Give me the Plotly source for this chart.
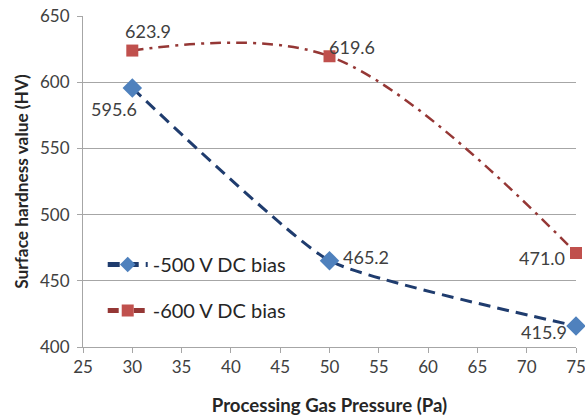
import plotly.graph_objects as go

pressure = [30, 50, 75]
hv_500 = [595.6, 465.2, 415.9]
hv_600 = [623.9, 619.6, 471.0]
series_names = ["-500 V DC bias", "-600 V DC bias"]
x_ticks = [25, 30, 35, 40, 45, 50, 55, 60, 65, 70, 75]
y_ticks = [400, 450, 500, 550, 600, 650]

FONT = "Lato"
fig = go.Figure()
fig.add_trace(go.Scatter(
    x=pressure, y=hv_500, name=series_names[0], mode="lines+markers",
    line=dict(color="#1F3C6E", width=3, dash="12px,7px", shape="spline", smoothing=0.45),
    marker=dict(symbol="diamond", size=15, color="#4F81BD"),
    legendgroup="a", cliponaxis=False))
fig.add_trace(go.Scatter(
    x=pressure, y=hv_600, name=series_names[1], mode="lines+markers",
    line=dict(color="#953735", width=2.5, dash="11px,6px,3px,6px", shape="spline", smoothing=1),
    marker=dict(symbol="square", size=12, color="#C0504D"),
    legendgroup="b", cliponaxis=False))

# data labels
offsets_500 = [(-18, -21), (36, 4), (-32, -6)]
offsets_600 = [(16, 20), (22, 9), (-34, -5)]
for xs, ys, offs in [(pressure, hv_500, offsets_500), (pressure, hv_600, offsets_600)]:
    for xv, yv, (dx, dy) in zip(xs, ys, offs):
        fig.add_annotation(x=xv, y=yv, text=f"{yv:.1f}", showarrow=False,
                           xshift=dx, yshift=dy,
                           font=dict(family=FONT, size=18, color="#404040"))

fig.update_layout(
    width=585, height=416,
    margin=dict(l=83, r=9, t=16, b=69),
    paper_bgcolor="white", plot_bgcolor="white",
    font=dict(family=FONT, size=17, color="#404040"),
    showlegend=True,
    legend=dict(x=0.04, y=0.308, xanchor="left", yanchor="top",
                font=dict(family=FONT, size=20, color="#262626"),
                itemwidth=40, itemsizing="constant",
                tracegroupgap=17, bgcolor="rgba(0,0,0,0)"),
    xaxis=dict(range=[25, 75], tickvals=x_ticks, showgrid=False,
               showline=True, linecolor="#A6A6A6", linewidth=1,
               ticks="outside", ticklen=5, tickcolor="#A6A6A6",
               ticklabeloverflow="allow", automargin=False,
               tickfont=dict(family=FONT, size=17, color="#404040"),
               title=dict(text="<b>Processing Gas Pressure (Pa)</b>",
                          font=dict(family=FONT, size=18.6, color="#262626"), standoff=22),
               zeroline=False),
    yaxis=dict(range=[400, 650], tickvals=y_ticks, showgrid=True,
               gridcolor="#A6A6A6", gridwidth=1,
               showline=True, linecolor="#A6A6A6", linewidth=1,
               ticks="outside", ticklen=5, tickcolor="#A6A6A6",
               ticklabeloverflow="allow", automargin=False,
               tickfont=dict(family=FONT, size=17, color="#404040"),
               ticklabelstandoff=4,
               title=dict(text="<b>Surface hardness value (HV)</b>",
                          font=dict(family=FONT, size=17.3, color="#262626"), standoff=6),
               zeroline=False),
)
# remove the browser's default 8px body margin so the figure sits at the window origin
fig.write_html("out.html", config={"displayModeBar": False},
               post_script="document.body.style.margin='0';")
